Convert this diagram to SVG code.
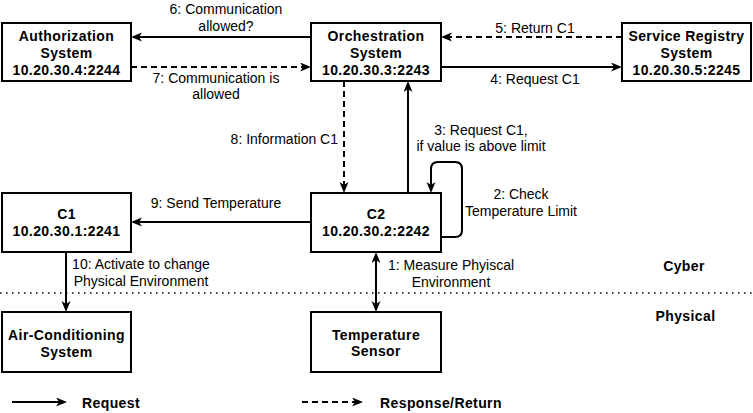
<svg xmlns="http://www.w3.org/2000/svg" width="753" height="413" viewBox="0 0 753 413">
<style>
.box{fill:#fff;stroke:#000;stroke-width:2}
.bt{font-family:"Liberation Sans",Arial,sans-serif;font-size:14px;font-weight:bold;letter-spacing:0.4px;text-anchor:middle;fill:#000}
.lt{font-family:"Liberation Sans",Arial,sans-serif;font-size:14px;text-anchor:middle;fill:#000}
.e{fill:none;stroke:#000;stroke-width:2}
.d{stroke-dasharray:6,4}
</style>
<defs>
<marker id="ah" markerUnits="userSpaceOnUse" markerWidth="12" markerHeight="10" refX="8" refY="4.5" orient="auto-start-reverse" viewBox="0 0 12 10">
<path d="M0,0 L11,4.5 L0,9 L3,4.5 z" fill="#000"/>
</marker>
</defs>
<rect width="753" height="413" fill="#fff"/>
<line x1="0" y1="293" x2="753" y2="293" stroke="#000" stroke-width="1.5" stroke-dasharray="1.5,4.5"/>
<g id="connectors">
<line class="e" x1="311" y1="37" x2="134" y2="37" marker-end="url(#ah)"/>
<line class="e d" x1="131" y1="67" x2="308" y2="67" marker-end="url(#ah)"/>
<line class="e d" x1="622" y1="37" x2="444" y2="37" marker-end="url(#ah)"/>
<line class="e" x1="441" y1="67" x2="619" y2="67" marker-end="url(#ah)"/>
<line class="e d" x1="344" y1="81" x2="344" y2="190" marker-end="url(#ah)"/>
<line class="e" x1="408" y1="193" x2="408" y2="84" marker-end="url(#ah)"/>
<path class="e" d="M441,237 L455,237 Q462,237 462,230 L462,169 Q462,162 455,162 L438,162 Q431,162 431,169 L431,190" marker-end="url(#ah)"/>
<line class="e" x1="311" y1="222" x2="134" y2="222" marker-end="url(#ah)"/>
<line class="e" x1="66" y1="252" x2="66" y2="309" marker-end="url(#ah)"/>
<line class="e" x1="376" y1="255" x2="376" y2="309" marker-start="url(#ah)" marker-end="url(#ah)"/>
<text class="lt" x="226" y="14">6: Communication</text>
<text class="lt" x="226" y="31">allowed?</text>
<text class="lt" x="216" y="83">7: Communication is</text>
<text class="lt" x="216" y="99">allowed</text>
<text class="lt" x="535" y="33">5: Return C1</text>
<text class="lt" x="535" y="84">4: Request C1</text>
<text class="lt" x="338" y="144" style="text-anchor:end">8: Information C1</text>
<text class="lt" x="481" y="135">3: Request C1,</text>
<text class="lt" x="481" y="151">if value is above limit</text>
<text class="lt" x="521" y="199">2: Check</text>
<text class="lt" x="521" y="216">Temperature Limit</text>
<text class="lt" x="216" y="208">9: Send Temperature</text>
<text class="lt" x="141" y="269">10: Activate to change</text>
<text class="lt" x="141" y="286">Physical Environment</text>
<text class="lt" x="451" y="270">1: Measure Phyiscal</text>
<text class="lt" x="451" y="287">Environment</text>
</g>
<g id="auth">
<rect class="box" x="2" y="23" width="129" height="58"/>
<text class="bt" x="66.5" y="41">Authorization</text>
<text class="bt" x="66.5" y="58">System</text>
<text class="bt" x="66.5" y="75">10.20.30.4:2244</text>
</g>
<g id="orch">
<rect class="box" x="311" y="23" width="130" height="58"/>
<text class="bt" x="376" y="41">Orchestration</text>
<text class="bt" x="376" y="58">System</text>
<text class="bt" x="376" y="75">10.20.30.3:2243</text>
</g>
<g id="registry">
<rect class="box" x="622" y="23" width="129" height="58"/>
<text class="bt" x="686.5" y="41">Service Registry</text>
<text class="bt" x="686.5" y="58">System</text>
<text class="bt" x="686.5" y="75">10.20.30.5:2245</text>
</g>
<g id="c1">
<rect class="box" x="2" y="193" width="129" height="59"/>
<text class="bt" x="66.5" y="219">C1</text>
<text class="bt" x="66.5" y="236">10.20.30.1:2241</text>
</g>
<g id="c2">
<rect class="box" x="311" y="193" width="130" height="59"/>
<text class="bt" x="376" y="219">C2</text>
<text class="bt" x="376" y="236">10.20.30.2:2242</text>
</g>
<g id="aircon">
<rect class="box" x="2" y="312" width="129" height="60"/>
<text class="bt" x="66.5" y="340">Air-Conditioning</text>
<text class="bt" x="66.5" y="357">System</text>
</g>
<g id="sensor">
<rect class="box" x="311" y="312" width="130" height="60"/>
<text class="bt" x="376" y="340">Temperature</text>
<text class="bt" x="376" y="356">Sensor</text>
</g>
<g id="layers">
<text class="bt" x="684" y="271">Cyber</text>
<text class="bt" x="685.5" y="321">Physical</text>
</g>
<g id="legend">
<line class="e" x1="12" y1="402" x2="64" y2="402" marker-end="url(#ah)"/>
<text class="bt" x="82" y="408" style="text-anchor:start">Request</text>
<line class="e d" x1="302" y1="402" x2="360" y2="402" marker-end="url(#ah)"/>
<text class="bt" x="380" y="408" style="text-anchor:start">Response/Return</text>
</g>
</svg>
